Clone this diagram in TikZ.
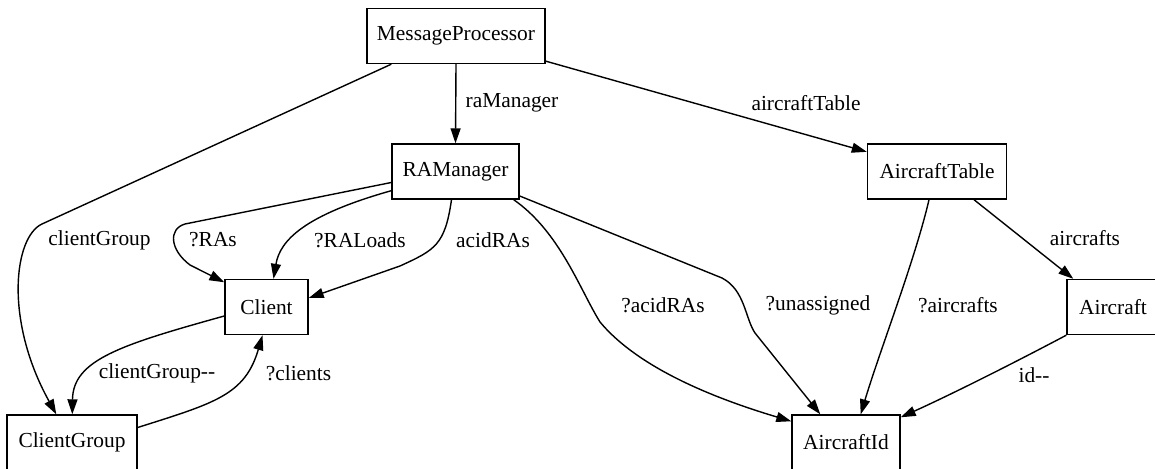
\documentclass[tikz,border=0pt]{standalone}
\usepackage{fontspec}
\setmainfont{Liberation Serif}
\usetikzlibrary{arrows.meta,calc}
\begin{document}
\begin{tikzpicture}[x=1bp,y=-1bp,
  box/.style={draw,line width=1.4bp,minimum height=55bp,inner sep=0pt,font=\fontsize{21.4bp}{25bp}\selectfont},
  lbl/.style={inner sep=0pt,font=\fontsize{21.4bp}{25bp}\selectfont},
  edge/.style={line width=1.4bp,-{Triangle[length=15bp,width=10bp]}}]
\useasboundingbox (0,0) rectangle (1155,469);
\clip (0,0) rectangle (1155,469);
\node[box,minimum width=178bp] (mp) at (456,36) {MessageProcessor};
\node[box,minimum width=127bp] (rm) at (455.5,171.5) {RAManager};
\node[box,minimum width=139bp] (at) at (937,171.5) {AircraftTable};
\node[box,minimum width=83bp] (cl) at (266.5,307) {Client};
\node[box,minimum width=130bp] (cg) at (72,442.5) {ClientGroup};
\node[box,minimum width=108bp] (ai) at (846,442.5) {AircraftId};
\node[box,minimum width=92bp] (ac) at (1113,307) {Aircraft};
% edges
\draw[edge] (mp.south) -- (rm.north);
\draw[edge] (mp) -- (at);
\draw[edge] ($(mp.south west)+(25,0)$) -- (42,224) .. controls (14,237) and (4,320) .. ($(cg.north west)+(50,0)$);
\draw[edge] ($(rm.west)+(0,11)$) -- (185,224) .. controls (168,229) and (170,250) .. (190,265) -- ($(cl.north west)+(0,3.5)$);
\draw[edge] ($(rm.south west)+(0,-9)$) .. controls (305,215) and (280,240) .. ($(cl.north)+(7,0)$);
\draw[edge] ($(rm.south)+(-4,0)$) .. controls (445,245) and (435,250) .. (400,266) -- ($(cl.east)+(0,-9)$);
\draw[edge] ($(cl.west)+(0,9)$) .. controls (120,345) and (73,360) .. ($(cg.north west)+(66,0)$);
\draw[edge] ($(cg.east)+(0,-15)$) .. controls (215,403) and (245,395) .. ($(cl.south)+(-4,0)$);
\draw[edge] ($(rm.south east)+(-6,0)$) .. controls (560,232) and (580,290) .. (600,322) .. controls (640,370) and (720,400) .. ($(ai.north west)+(0,7)$);
\draw[edge] ($(rm.east)+(0,24.5)$) -- (722,278) .. controls (745,290) and (745,318) .. (755,333) -- ($(ai.north west)+(29,0)$);
\draw[edge] ($(at.south)+(-8,0)$) .. controls (915,260) and (880,350) .. ($(ai.north east)+(-40,0)$);
\draw[edge] ($(at.south)+(37,0)$) -- ($(ac.north west)+(7,0)$);
\draw[edge] (ac.south west) .. controls (1010,365) and (950,395) .. ($(ai.north east)+(0,3)$);
% labels
\node[lbl] (l1) at (512,103) {raManager};
\node[lbl] (l2) at (806,103) {aircraftTable};
\node[lbl] (l3) at (99.5,240) {clientGroup};
\node[lbl] (l4) at (213,240) {?RAs};
\node[lbl] (l5) at (360,240) {?RALoads};
\node[lbl] (l6) at (493,240) {acidRAs};
\node[lbl] (l7) at (663,305) {?acidRAs};
\node[lbl] (l8) at (818,305) {?unassigned};
\node[lbl] (l9) at (958,305) {?aircrafts};
\node[lbl] (l10) at (1085,238) {aircrafts};
\node[lbl] (l11) at (157,373) {clientGroup{-}{-}};
\node[lbl] (l12) at (298.5,373) {?clients};
\node[lbl] (l13) at (1034,375) {id{-}{-}};
\end{tikzpicture}
\end{document}
